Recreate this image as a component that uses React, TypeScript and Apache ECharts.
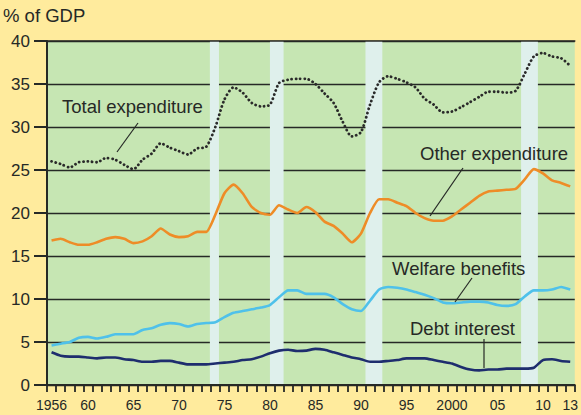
import React, { useEffect, useRef } from "react";
import * as echarts from "echarts";

// Fiscal years 1956-57 ... 2013-14
const years: string[] = Array.from({ length: 58 }, (_, i) => String(1956 + i));

const labelYears = ["1956", "1960", "1965", "1970", "1975", "1980", "1985", "1990", "1995", "2000", "2005", "2010", "2013"];

const totalExpenditure = [
  26.0, 25.7, 25.3, 25.9, 26.0, 25.9, 26.4, 26.2, 25.6, 25.1,
  26.2, 26.9, 28.1, 27.6, 27.2, 26.8, 27.5, 27.7, 30.0, 33.2,
  34.6, 34.0, 32.8, 32.4, 32.6, 35.1, 35.5, 35.6, 35.6, 35.0,
  33.9, 32.8, 30.6, 28.9, 29.4, 32.6, 35.2, 35.9, 35.6, 35.2,
  34.6, 33.3, 32.6, 31.7, 31.8, 32.3, 32.9, 33.5, 34.1, 34.1,
  34.0, 34.2, 36.2, 38.2, 38.6, 38.2, 38.0, 37.1,
];

const otherExpenditure = [
  16.8, 17.0, 16.6, 16.3, 16.3, 16.6, 17.0, 17.2, 17.0, 16.5,
  16.7, 17.3, 18.2, 17.5, 17.2, 17.3, 17.8, 17.8, 19.8, 22.3,
  23.3, 22.3, 20.7, 20.0, 19.8, 20.9, 20.4, 20.0, 20.7, 20.1,
  19.0, 18.5, 17.6, 16.6, 17.6, 20.0, 21.6, 21.6, 21.2, 20.8,
  20.0, 19.4, 19.1, 19.1, 19.6, 20.4, 21.2, 22.0, 22.5, 22.6,
  22.7, 22.8, 23.9, 25.1, 24.6, 23.8, 23.5, 23.1,
];

const welfareBenefits = [
  4.6, 4.8, 5.0, 5.5, 5.6, 5.4, 5.6, 5.9, 5.9, 5.9,
  6.4, 6.6, 7.0, 7.2, 7.1, 6.8, 7.1, 7.2, 7.3, 7.9,
  8.4, 8.6, 8.8, 9.0, 9.3, 10.2, 11.0, 11.0, 10.6, 10.6,
  10.6, 10.2, 9.4, 8.8, 8.6, 9.8, 11.1, 11.4, 11.3, 11.1,
  10.8, 10.5, 10.1, 9.6, 9.5, 9.6, 9.7, 9.7, 9.6, 9.3,
  9.2, 9.4, 10.3, 11.0, 11.0, 11.1, 11.4, 11.1,
];

const debtInterest = [
  3.8, 3.4, 3.3, 3.3, 3.2, 3.1, 3.2, 3.2, 3.0, 2.9,
  2.7, 2.7, 2.8, 2.8, 2.6, 2.4, 2.4, 2.4, 2.5, 2.6,
  2.7, 2.9, 3.0, 3.3, 3.7, 4.0, 4.1, 3.95, 4.0, 4.2,
  4.1, 3.8, 3.5, 3.2, 3.0, 2.7, 2.7, 2.8, 2.9, 3.1,
  3.1, 3.1, 2.9, 2.7, 2.5, 2.1, 1.8, 1.7, 1.8, 1.8,
  1.9, 1.9, 1.9, 2.0, 2.9, 3.0, 2.8, 2.7,
];

// Shaded periods (start, end) in years
const bands: [number, number][] = [
  [1973.9, 1974.9],
  [1980.5, 1982.0],
  [1991.0, 1992.85],
  [2008.1, 2009.95],
];

const FONT = '"Liberation Sans", Arial, Helvetica, sans-serif';
const DARK = "#262926";

export default function App() {
  const ref = useRef<HTMLDivElement>(null);

  useEffect(() => {
    if (!ref.current) return;
    const chart = echarts.init(ref.current, null, { renderer: "svg" });

    const annotationText = (text: string, x: number, y: number) => ({
      type: "text",
      x,
      y,
      z: 20,
      style: { text, fill: DARK, font: `18.5px ${FONT}`, textVerticalAlign: "middle" },
    });
    const leader = (x1: number, y1: number, x2: number, y2: number) => ({
      type: "line",
      z: 20,
      shape: { x1, y1, x2, y2 },
      style: { stroke: DARK, lineWidth: 1.2 },
    });

    chart.setOption({
      animation: false,
      backgroundColor: "#FFEB9D",
      grid: {
        left: 47,
        right: 6,
        top: 41,
        bottom: 30,
        show: true,
        backgroundColor: "#C6E6B3",
        borderWidth: 0,
      },
      xAxis: [
        {
          type: "category",
          data: years,
          boundaryGap: true,
          position: "bottom",
          z: 10,
          axisLine: { show: true, lineStyle: { color: DARK, width: 2 } },
          axisTick: { show: true, interval: 0, length: 7, alignWithLabel: false, lineStyle: { color: DARK, width: 1.8 } },
          axisLabel: {
            interval: (_i: number, v: string) => labelYears.includes(v),
            formatter: (v: string) => (v === "1956" || v === "2000" ? v : v.slice(2)),
            color: DARK,
            fontFamily: FONT,
            fontSize: 14,
            margin: 13,
          },
          splitLine: { show: false },
        },
        {
          type: "value",
          min: 1956,
          max: 2014,
          position: "top",
          z: 10,
          axisLine: { show: true, lineStyle: { color: DARK, width: 1.6 } },
          axisTick: { show: false },
          axisLabel: { show: false },
          splitLine: { show: false },
        },
      ],
      yAxis: {
        type: "value",
        min: 0,
        max: 40,
        interval: 5,
        axisLine: { show: true, lineStyle: { color: DARK, width: 2 } },
        axisTick: { show: true, length: 13, lineStyle: { color: DARK, width: 2 } },
        axisLabel: { color: DARK, fontFamily: FONT, fontSize: 17, margin: 17 },
        splitLine: { show: true, lineStyle: { color: DARK, width: 1.4 } },
      },
      series: [
        {
          type: "line",
          xAxisIndex: 1,
          data: [],
          z: 1,
          silent: true,
          markArea: {
            silent: true,
            itemStyle: { color: "#DFF0EC" },
            data: bands.map(([a, b]) => [
              { xAxis: a, yAxis: 0 },
              { xAxis: b, yAxis: 40 },
            ]),
          },
        },
        {
          name: "Total expenditure",
          type: "line",
          data: totalExpenditure,
          z: 4,
          symbol: "none",
          smooth: 0.25,
          lineStyle: { color: "#2a2a2a", width: 2.8, type: [0.1, 4.2], cap: "round" },
        },
        {
          name: "Other expenditure",
          type: "line",
          data: otherExpenditure,
          z: 4,
          symbol: "none",
          smooth: 0.2,
          lineStyle: { color: "#EE8C27", width: 2.6 },
        },
        {
          name: "Welfare benefits",
          type: "line",
          data: welfareBenefits,
          z: 4,
          symbol: "none",
          smooth: 0.2,
          lineStyle: { color: "#4FC1EA", width: 2.6 },
        },
        {
          name: "Debt interest",
          type: "line",
          data: debtInterest,
          z: 4,
          symbol: "none",
          smooth: 0.2,
          lineStyle: { color: "#1E2D6E", width: 2.6 },
        },
      ],
      graphic: [
        {
          type: "text",
          x: 3,
          y: 15,
          style: { text: "% of GDP", fill: DARK, font: `18.5px ${FONT}`, textVerticalAlign: "middle" },
        },
        annotationText("Total expenditure", 62, 106),
        leader(138, 123, 117, 152),
        annotationText("Other expenditure", 420, 153),
        leader(463, 168, 430, 216),
        annotationText("Welfare benefits", 392, 268),
        leader(472, 278, 455, 302),
        annotationText("Debt interest", 410, 328),
        leader(484, 339, 484, 368),
      ],
    });

    return () => chart.dispose();
  }, []);

  return (
    <div
      ref={ref}
      style={{ position: "absolute", left: 0, top: 0, width: 581, height: 415 }}
    />
  );
}
